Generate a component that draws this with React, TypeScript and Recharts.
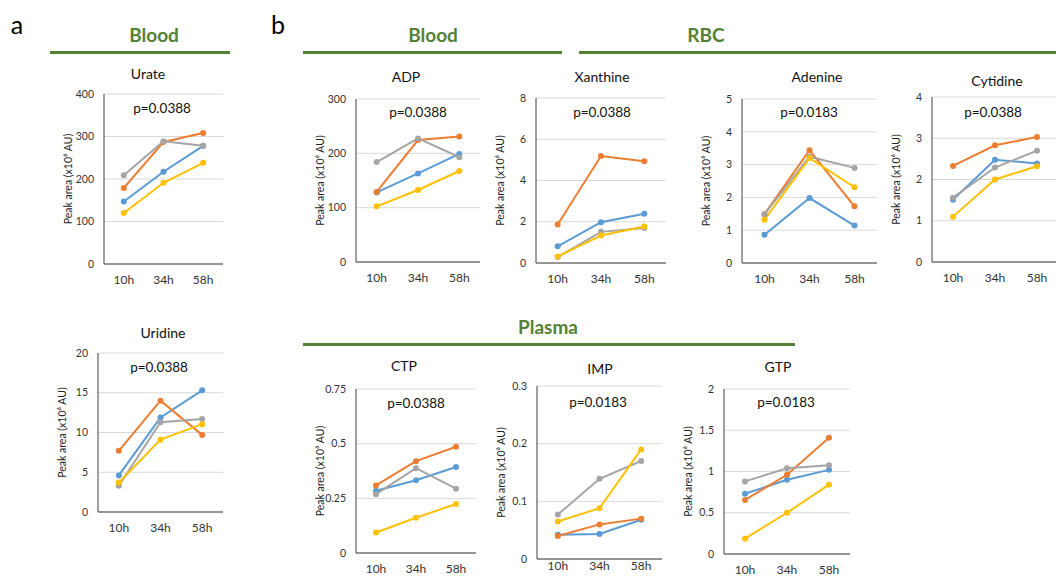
import { LineChart, Line, XAxis, YAxis, CartesianGrid } from 'recharts'

const times = ['10h', '34h', '58h']
const seriesColors = ['#5B9BD5', '#ED7D31', '#A5A5A5', '#FFC000']

// each panel: [blue, orange, gray, yellow] across 10h / 34h / 58h
const urate = [[147, 217, 278], [179, 287, 308], [209, 289, 278], [120, 191, 238]]
const uridine = [[4.6, 11.9, 15.3], [7.7, 14.0, 9.7], [3.3, 11.3, 11.7], [3.7, 9.1, 11.05]]
const adp = [[128, 163, 199], [129, 224.5, 231], [184, 227.5, 193], [102.5, 132.5, 167.5]]
const xanthine = [[0.81, 1.98, 2.39], [1.87, 5.19, 4.93], [0.29, 1.51, 1.7], [0.32, 1.33, 1.77]]
const adenine = [[0.86, 1.98, 1.14], [1.49, 3.44, 1.73], [1.49, 3.24, 2.9], [1.32, 3.2, 2.31]]
const cytidine = [[1.51, 2.48, 2.39], [2.33, 2.83, 3.03], [1.56, 2.29, 2.7], [1.1, 2.0, 2.32]]
const ctp = [[0.285, 0.333, 0.393], [0.309, 0.42, 0.486], [0.269, 0.388, 0.294], [0.094, 0.161, 0.224]]
const imp = [[0.042, 0.0435, 0.068], [0.04, 0.06, 0.07], [0.077, 0.139, 0.17], [0.065, 0.088, 0.19]]
const gtp = [[0.73, 0.9, 1.02], [0.655, 0.96, 1.41], [0.88, 1.04, 1.075], [0.186, 0.5, 0.84]]

const urateTicks = [0, 100, 200, 300, 400]
const uridineTicks = [0, 5, 10, 15, 20]
const adpTicks = [0, 100, 200, 300]
const xanthineTicks = [0, 2, 4, 6, 8]
const adenineTicks = [0, 1, 2, 3, 4, 5]
const cytidineTicks = [0, 1, 2, 3, 4]
const ctpTicks = [0, 0.25, 0.5, 0.75]
const impTicks = [0, 0.1, 0.2, 0.3]
const gtpTicks = [0, 0.5, 1, 1.5, 2]

const FONT = 'Lato, "Open Sans", sans-serif'
const GREEN = '#548235'
const Y_W = 50
const M_TOP = 10
const M_RIGHT = 4
const X_H = 30

const panels = [
  { title: 'Urate', values: urate, ticks: urateTicks, p: 'p=0.0388', x0: 104, x1: 223, yTop: 94, yBot: 264, tx: 148, ty: 73, px: 162, py: 108 },
  { title: 'Uridine', values: uridine, ticks: uridineTicks, p: 'p=0.0388', x0: 98, x1: 223, yTop: 353, yBot: 512, tx: 163, ty: 332, px: 159, py: 367 },
  { title: 'ADP', values: adp, ticks: adpTicks, p: 'p=0.0388', x0: 356, x1: 480, yTop: 99, yBot: 262, tx: 406, ty: 76, px: 418, py: 112 },
  { title: 'Xanthine', values: xanthine, ticks: xanthineTicks, p: 'p=0.0388', x0: 536, x1: 666, yTop: 98, yBot: 263, tx: 602, ty: 76, px: 602, py: 112 },
  { title: 'Adenine', values: adenine, ticks: adenineTicks, p: 'p=0.0183', x0: 742, x1: 877, yTop: 99, yBot: 263, tx: 817, ty: 76, px: 809, py: 112 },
  { title: 'Cytidine', values: cytidine, ticks: cytidineTicks, p: 'p=0.0388', x0: 932, x1: 1058, yTop: 97, yBot: 262, tx: 997, ty: 80, px: 993, py: 112 },
  { title: 'CTP', values: ctp, ticks: ctpTicks, p: 'p=0.0388', x0: 356, x1: 476, yTop: 389, yBot: 553, tx: 404, ty: 365, px: 416, py: 403 },
  // IMP sits lower on the page; its tick labels are pulled up so they stay inside the frame
  { title: 'IMP', values: imp, ticks: impTicks, p: 'p=0.0183', x0: 537, x1: 662, yTop: 386, yBot: 559, tx: 600, ty: 368, px: 598, py: 402, tightX: true },
  { title: 'GTP', values: gtp, ticks: gtpTicks, p: 'p=0.0183', x0: 724, x1: 850, yTop: 389, yBot: 554, tx: 778, ty: 366, px: 786, py: 402 },
]

const headers = [
  { text: 'Blood', cx: 154, cy: 34, lx0: 50, lx1: 230, ly: 52 },
  { text: 'Blood', cx: 433, cy: 34, lx0: 303, lx1: 562, ly: 52 },
  { text: 'RBC', cx: 706, cy: 34, lx0: 579, lx1: 1056, ly: 52 },
  { text: 'Plasma', cx: 548, cy: 326, lx0: 303, lx1: 795, ly: 344 },
]

function centered(x: number, y: number, style: any, text: string, key?: string) {
  return (
    <div key={key} style={{ position: 'absolute', left: x, top: y, transform: 'translate(-50%, -50%)', whiteSpace: 'nowrap', fontFamily: FONT, ...style }}>
      {text}
    </div>
  )
}

function Panel({ cfg }: { cfg: any }) {
  const plotW = cfg.x1 - cfg.x0
  const plotH = cfg.yBot - cfg.yTop
  const left = cfg.x0 - Y_W
  const top = cfg.yTop - M_TOP
  const width = plotW + Y_W + M_RIGHT
  const height = plotH + M_TOP + X_H
  const data = times.map((t, i) => ({
    t,
    s0: cfg.values[0][i],
    s1: cfg.values[1][i],
    s2: cfg.values[2][i],
    s3: cfg.values[3][i],
  }))
  const max = cfg.ticks[cfg.ticks.length - 1]
  return (
    <>
      <div style={{ position: 'absolute', left, top }}>
        <LineChart width={width} height={height} data={data} margin={{ top: M_TOP, right: M_RIGHT, left: 0, bottom: 0 }}>
          <CartesianGrid vertical={false} stroke="#D9D9D9" strokeWidth={1} />
          <XAxis
            dataKey="t"
            padding={{ left: plotW / 6, right: plotW / 6 }}
            height={X_H}
            tickLine={false}
            tickSize={cfg.tightX ? 0 : 6}
            tickMargin={cfg.tightX ? 2 : 5}
            stroke="#404040"
            tick={{ fill: '#333', fontSize: 12, fontFamily: FONT }}
          />
          <YAxis
            width={Y_W}
            domain={[0, max]}
            ticks={cfg.ticks}
            interval={0}
            tickLine={false}
            tickMargin={4}
            stroke="#404040"
            tick={{ fill: '#333', fontSize: 10.5, fontFamily: FONT }}
            label={{
              value: 'Peak area (x10⁶ AU)',
              angle: -90,
              position: 'insideLeft',
              offset: 14,
              style: { textAnchor: 'middle', fontSize: 10.5, fill: '#222', fontFamily: FONT },
            }}
          />
          {[0, 1, 2, 3].map((k) => (
            <Line
              key={k}
              dataKey={'s' + k}
              stroke={seriesColors[k]}
              strokeWidth={2}
              dot={{ r: 3, fill: seriesColors[k], stroke: seriesColors[k], strokeWidth: 0 }}
              isAnimationActive={false}
            />
          ))}
        </LineChart>
      </div>
      {centered(cfg.tx, cfg.ty, { fontSize: 14, color: '#111' }, cfg.title)}
      {centered(cfg.px, cfg.py, { fontSize: 13.5, color: '#111' }, cfg.p)}
    </>
  )
}

export default function App() {
  return (
    <div style={{ position: 'absolute', left: 0, top: 0, width: 1056, height: 576, overflow: 'hidden', background: '#fff' }}>
      {centered(17, 24, { fontSize: 25, color: '#000' }, 'a')}
      {centered(278, 24, { fontSize: 25, color: '#000' }, 'b')}
      {headers.map((h, i) => (
        <div key={i}>
          {centered(h.cx, h.cy, { fontSize: 19, fontWeight: 700, color: GREEN }, h.text)}
          <div style={{ position: 'absolute', left: h.lx0, top: h.ly - 1.5, width: h.lx1 - h.lx0, height: 3, background: GREEN }} />
        </div>
      ))}
      {panels.map((p, i) => (
        <Panel key={i} cfg={p} />
      ))}
    </div>
  )
}
